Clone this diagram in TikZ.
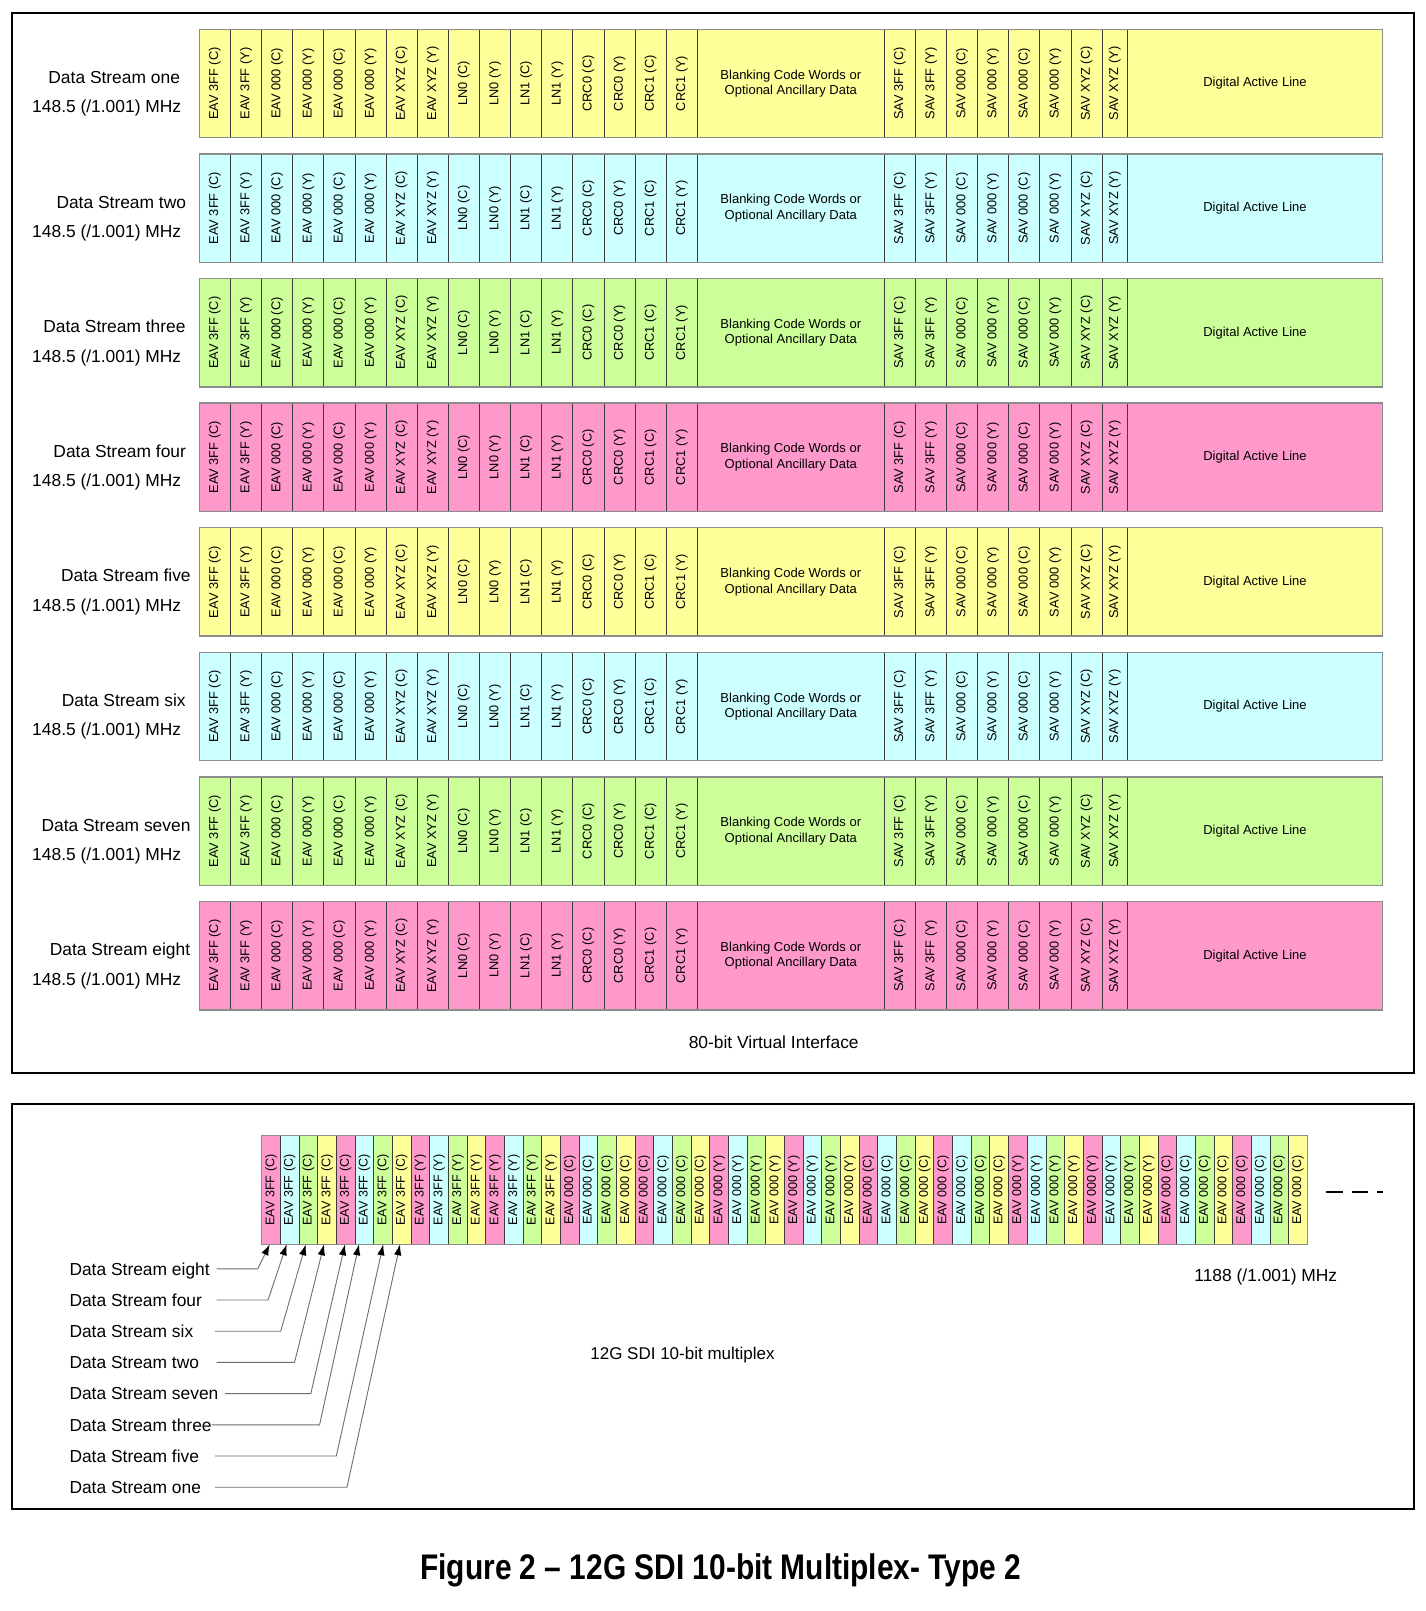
\documentclass[tikz,border=0pt]{standalone}
\usepackage{fontspec}
\setmainfont{Liberation Sans}
\usepackage{graphicx}
\usetikzlibrary{arrows.meta}
\definecolor{cyel}{RGB}{255,255,153}
\definecolor{ccya}{RGB}{204,255,255}
\definecolor{cgrn}{RGB}{204,255,153}
\definecolor{cpnk}{RGB}{255,153,204}
\definecolor{divline}{RGB}{60,60,60}
\definecolor{rimline}{RGB}{140,140,140}
\definecolor{feedgray}{RGB}{110,110,110}
\tikzset{
  cellbox/.style={draw=divline, line width=0.8pt, inner sep=0pt, outer sep=0pt, minimum height=108.4pt, font=\fontsize{12.8}{14}\selectfont},
  muxbox/.style={draw=divline, line width=0.7pt, inner sep=0pt, outer sep=0pt, minimum height=108.6pt, minimum width=18.67pt, font=\fontsize{12.6}{14}\selectfont},
  rim/.style={draw=rimline, line width=1.3pt},
  lbl/.style={font=\fontsize{17.4}{20}\selectfont, inner sep=0pt},
  feed/.style={draw=feedgray, line width=0.9pt, -{Latex[length=11pt,width=7.5pt,color=black]}},
  frame/.style={draw=black, line width=2pt},
}
\begin{document}
\begin{tikzpicture}[x=1pt,y=-1pt]
\useasboundingbox[fill=white] (0,0) rectangle (1425,1611);
\draw[frame] (12.3,13.4) rectangle (1413.7,1073.3);
\draw[frame] (12.3,1104.3) rectangle (1413.7,1509);

\foreach \r/\cc/\nm/\nx in {1/cyel/one/114.2, 2/ccya/two/121.3, 3/cgrn/three/114.5, 4/cpnk/four/119.7, 5/cyel/five/125.9, 6/ccya/six/123.8, 7/cgrn/seven/116, 8/cpnk/eight/120}{
  \pgfmathsetmacro\rt{29.3+(\r-1)*124.6}
  \pgfmathsetmacro\rc{\rt+54.2}
  \pgfmathsetmacro\rb{\rt+108.4}
  \foreach \t [count=\j] in {EAV 3FF (C),EAV 3FF (Y),EAV 000 (C),EAV 000 (Y),EAV 000 (C),EAV 000 (Y),EAV XYZ (C),EAV XYZ (Y),LN0 (C),LN0 (Y),LN1 (C),LN1 (Y),CRC0 (C),CRC0 (Y),CRC1 (C),CRC1 (Y)}{
    \pgfmathsetmacro\cx{199.3+(\j-0.5)*31.125}
    \node[cellbox, minimum width=31.125pt, fill=\cc] (r\r e\j) at (\cx,\rc) {\rotatebox{90}{\t}};
  }
  \node[cellbox, minimum width=187pt, fill=\cc, align=center, font=\fontsize{13}{15.7}\selectfont] (r\r b) at (790.8,\rc) {Blanking Code Words or\\Optional Ancillary Data};
  \foreach \t [count=\j] in {SAV 3FF (C),SAV 3FF (Y),SAV 000 (C),SAV 000 (Y),SAV 000 (C),SAV 000 (Y),SAV XYZ (C),SAV XYZ (Y)}{
    \pgfmathsetmacro\w{\j==8 ? 25.7 : 31.1}
    \pgfmathsetmacro\cx{884.3+(\j-1)*31.1+\w/2}
    \node[cellbox, minimum width=\w pt, fill=\cc] (r\r s\j) at (\cx,\rc) {\rotatebox{90}{\t}};
  }
  \node[cellbox, minimum width=254.6pt, fill=\cc, font=\fontsize{13}{15}\selectfont] (r\r a) at (1255,\rc) {Digital Active Line};
  \draw[rim] (199.3,\rt) rectangle (1382.3,\rb);
  \node[lbl, anchor=base] (n\r) at (\nx,\rt+54.2) {Data Stream \nm};
  \node[lbl, anchor=base] (f\r) at (106.7,\rt+83.6) {148.5 (/1.001) MHz};
}
\node[lbl, anchor=base] (vi) at (773.7,1048.5) {80-bit Virtual Interface};

\foreach \j in {1,...,56}{
  \pgfmathtruncatemacro\m{mod(\j-1,4)}
  \pgfmathtruncatemacro\blk{(\j-1)/8}
  \ifcase\m \def\mxcol{cpnk}\or \def\mxcol{ccya}\or \def\mxcol{cgrn}\or \def\mxcol{cyel}\fi
  \ifnum\blk<2 \def\mxhex{3FF}\else \def\mxhex{000}\fi
  \ifodd\blk \def\mxch{Y}\else \def\mxch{C}\fi
  \pgfmathsetmacro\cx{261.7+(\j-0.5)*18.67}
  \node[muxbox, fill=\mxcol] (m\j) at (\cx,1190) {\rotatebox{90}{EAV \mxhex\ (\mxch)}};
}
\draw[rim] (261.7,1135.7) rectangle (1307.2,1244.3);

\foreach \k/\nm/\sx/\bx/\dx in {1/eight/216.7/257.8/-1.3, 2/four/216.7/268/-3, 3/six/215/280.7/-2.6, 4/two/216.7/294.5/-3, 5/seven/225/310.8/-0.7, 6/three/211.7/319.6/-5.4, 7/five/215/336.3/0.2, 8/one/215/347/-1.7}{
  \pgfmathsetmacro\ly{1268.8+(\k-1)*31.2}
  \node[lbl, anchor=base west] (d\k) at (69.3,\ly+6.2) {Data Stream \nm};
  \coordinate (s\k) at (\sx,\ly);
  \coordinate (b\k) at (\bx,\ly);
  \draw[feed] (s\k) -- (b\k) -- ([xshift=\dx pt]m\k.south);
}

\node[lbl, anchor=base] (rate) at (1265.8,1281.2) {1188 (/1.001) MHz};
\node[lbl, anchor=base, font=\fontsize{17}{20}\selectfont] (muxlbl) at (682.5,1359.5) {12G SDI 10-bit multiplex};
\coordinate (dA) at (1326,1191.7);
\coordinate (dB) at (1382.7,1191.7);
\draw[line width=2.2pt, dash pattern=on 16.7pt off 9pt] (dA) -- (dB);

\node[anchor=base, inner sep=0pt, font=\bfseries\fontsize{35.6}{40}\selectfont] (title) at (720.8,1579) {\scalebox{0.84}[1]{Figure 2 – 12G SDI 10-bit Multiplex- Type 2}};
\end{tikzpicture}
\end{document}
